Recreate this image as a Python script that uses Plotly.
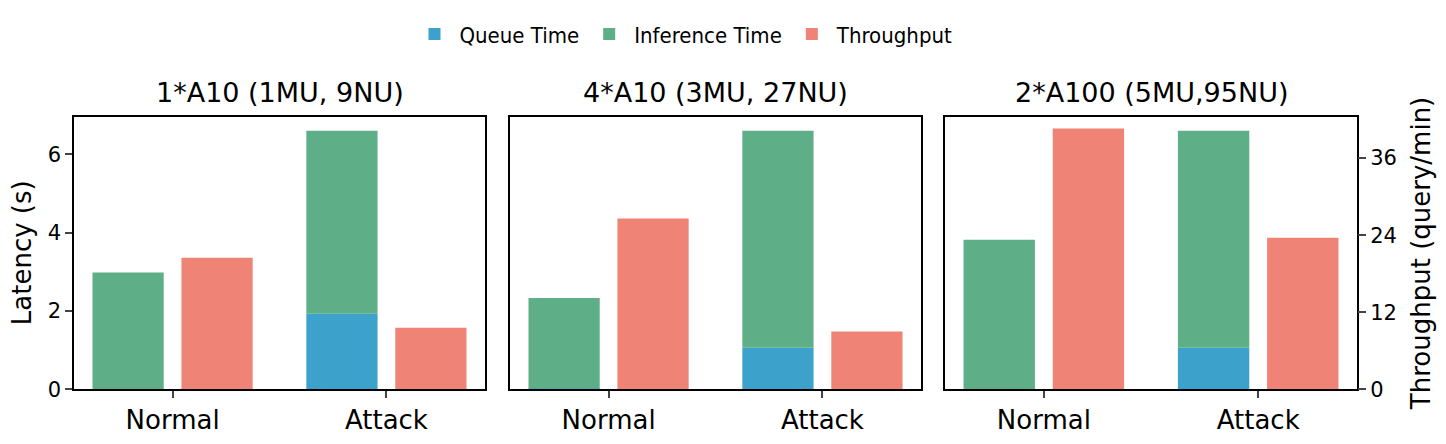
import plotly.graph_objects as go

panels = ["1*A10 (1MU, 9NU)", "4*A10 (3MU, 27NU)", "2*A100 (5MU,95NU)"]
scenarios = ["Normal", "Attack"]
queue_time = [[0.0, 1.93], [0.02, 1.06], [0.0, 1.06]]
inference_time = [[2.98, 4.67], [2.31, 5.54], [3.82, 5.54]]
throughput = [[20.5, 9.6], [26.6, 9.0], [40.6, 23.6]]
throughput_ticks = [0, 12, 24, 36]
latency_ticks = [0, 2, 4, 6]

C_Q = "#3DA2CB"
C_I = "#5EAE87"
C_T = "#EF8376"
FONT = "DejaVu Sans"
PADX, PADY = 8, 0
W, H = 1446 - 2 * PADX, 444 - PADY


def px(x):
    return (x - PADX) / W


def py(y):
    return (H - (y - PADY)) / H


xdoms = [[px(74), px(485)], [px(510), px(921)], [px(945), px(1357)]]
ydom = [py(392), py(112)]
OFF, BW = 0.208, 0.333

fig = go.Figure()
xpos = list(range(len(scenarios)))
for p in range(3):
    xa = "x" if p == 0 else f"x{p+1}"
    ya = "y" if p == 0 else f"y{2*p+1}"
    ya2 = f"y{2*p+2}"
    fig.add_trace(go.Bar(x=[v - OFF for v in xpos], y=queue_time[p], width=BW,
                         marker=dict(color=C_Q, line=dict(width=0)), name="Queue Time",
                         legendgroup="q", showlegend=(p == 0), xaxis=xa, yaxis=ya))
    fig.add_trace(go.Bar(x=[v - OFF for v in xpos], y=inference_time[p], base=queue_time[p],
                         width=BW, marker=dict(color=C_I, line=dict(width=0)),
                         name="Inference Time", legendgroup="i", showlegend=(p == 0),
                         xaxis=xa, yaxis=ya))
    fig.add_trace(go.Bar(x=[v + OFF for v in xpos], y=throughput[p], width=BW,
                         marker=dict(color=C_T, line=dict(width=0)), name="Throughput",
                         legendgroup="t", showlegend=(p == 0), xaxis=xa, yaxis=ya2))

layout = dict(
    width=W, height=H, margin=dict(l=0, r=0, t=0, b=0),
    plot_bgcolor="white", paper_bgcolor="white",
    barmode="overlay", font=dict(family=FONT, color="black"),
    legend=dict(orientation="h", x=px(684), xanchor="center", y=py(27), yanchor="middle",
                font=dict(family="DejaVu Sans Condensed, DejaVu Sans", size=22),
                itemwidth=40, traceorder="normal", tracegroupgap=0),
)
for p in range(3):
    sx = "" if p == 0 else str(p + 1)
    ym = "" if p == 0 else str(2 * p + 1)
    y2 = str(2 * p + 2)
    layout[f"xaxis{sx}"] = dict(domain=xdoms[p], range=[-0.461, 1.461], tickvals=xpos,
                                ticktext=scenarios, ticks="outside", ticklen=7, tickwidth=1.5,
                                showline=True, linecolor="black", linewidth=1.5, mirror=True,
                                showgrid=False, zeroline=False,
                                tickfont=dict(size=26, family=FONT),
                                anchor="y" if p == 0 else f"y{ym}")
    layout[f"yaxis{ym}"] = dict(domain=ydom, range=[0, 6.95], tickvals=latency_ticks,
                                ticks="outside" if p == 0 else "", ticklen=7, tickwidth=1.5,
                                showticklabels=(p == 0), showline=True, linecolor="black",
                                linewidth=1.5, mirror=True, showgrid=False, zeroline=False,
                                tickfont=dict(size=21, family=FONT),
                                anchor="x" if p == 0 else f"x{sx}")
    layout[f"yaxis{y2}"] = dict(range=[0, 42.4], overlaying="y" if p == 0 else f"y{ym}",
                                side="right", tickvals=throughput_ticks,
                                ticks="outside" if p == 2 else "", ticklen=8, tickwidth=1.5,
                                showticklabels=(p == 2), showline=False, showgrid=False,
                                zeroline=False, tickfont=dict(size=21, family=FONT),
                                anchor="x" if p == 0 else f"x{sx}")
fig.update_layout(**layout)

for p in range(3):
    fig.add_annotation(text=panels[p], xref="paper", yref="paper",
                       x=sum(xdoms[p]) / 2, y=py(87), xanchor="center", yanchor="middle",
                       showarrow=False, font=dict(size=27, family=FONT))
fig.add_annotation(text="Latency (s)", xref="paper", yref="paper", x=px(22), y=py(252),
                   textangle=-90, showarrow=False, xanchor="center", yanchor="middle",
                   font=dict(size=26, family=FONT))
fig.add_annotation(text="Throughput (query/min)", xref="paper", yref="paper", x=px(1421),
                   y=py(253), textangle=-90, showarrow=False, xanchor="center",
                   yanchor="middle", font=dict(size=26, family=FONT))

fig.write_html("out.html")
